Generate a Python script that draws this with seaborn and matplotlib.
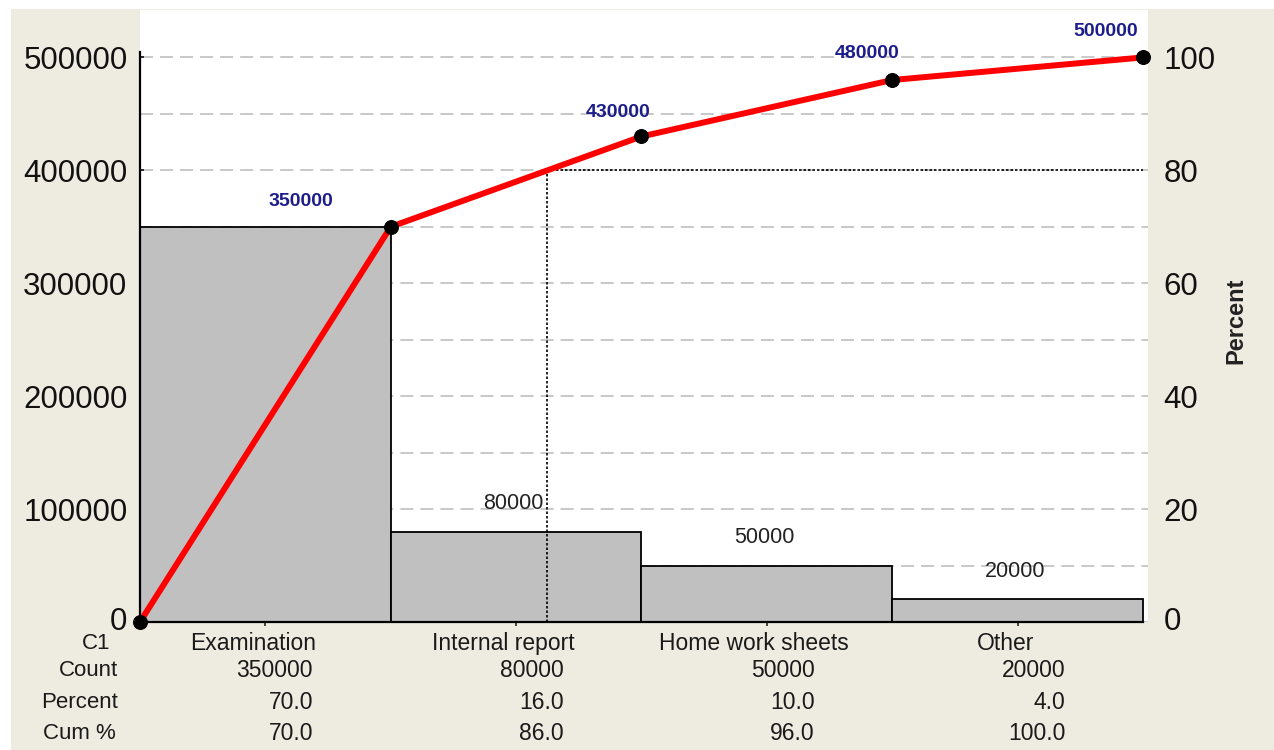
import numpy as np
import pandas as pd
import matplotlib
matplotlib.use("Agg")
import matplotlib.pyplot as plt
import matplotlib.transforms as mtrans
import seaborn as sns
from matplotlib.ticker import MultipleLocator, FixedLocator
from matplotlib.patches import Rectangle

# ---------------- data ----------------
categories = ["Examination", "Internal report", "Home work sheets", "Other"]
counts = [350000, 80000, 50000, 20000]
percents = [70.0, 16.0, 10.0, 4.0]
cum_percents = [70.0, 86.0, 96.0, 100.0]
cum_counts = [350000, 430000, 480000, 500000]
left_ticks = [0, 100000, 200000, 300000, 400000, 500000]
right_ticks = [0, 20, 40, 60, 80, 100]
row_labels = ["C1", "Count", "Percent", "Cum %"]
pareto_cut = 80

# ---------------- style ----------------
sns.set_style("white")
plt.rcParams["font.family"] = ["Liberation Sans", "DejaVu Sans"]

W, H = 1274, 750
fig = plt.figure(figsize=(W / 100, H / 100), dpi=100)
fig.patch.set_facecolor("white")
fig.patches.append(Rectangle((11 / W, 0), 1 - 11 / W, 1 - 9 / H, transform=fig.transFigure,
                             facecolor="#eeebe1", edgecolor="none", zorder=-10))

ax = fig.add_axes([140 / W, 128 / H, 1008 / W, 612 / H])
ax.set_facecolor("white")

total = sum(counts)
ymax = 542000

df = pd.DataFrame({"C1": categories, "Count": counts})
sns.barplot(data=df, x="C1", y="Count", order=categories, width=1, color="#c0c0c0",
            saturation=1, edgecolor="black", linewidth=1.3, ax=ax, zorder=2)

edges = np.arange(len(categories) + 1) - 0.5
cum_line = [0] + cum_counts
sns.lineplot(x=edges, y=cum_line, color="#ff0000", linewidth=4.3, ax=ax, zorder=5,
             marker="o", markersize=10, markerfacecolor="black", markeredgecolor="black",
             clip_on=False)

ax.set_xlim(-0.5, 3.52)
ax.set_ylim(0, ymax)

# grid
ax.yaxis.set_major_locator(FixedLocator(left_ticks))
ax.yaxis.set_minor_locator(MultipleLocator(50000))
ax.grid(False)
ax.grid(True, which="both", axis="y", color="#c8c8c8", linewidth=1.4, linestyle=(0, (6.7, 3.6)))
ax.set_axisbelow(True)

# spines
for s in ["top", "right"]:
    ax.spines[s].set_visible(False)
ax.spines["left"].set_color("black")
ax.spines["left"].set_linewidth(1.6)
ax.spines["left"].set_bounds(0, 505000)
ax.spines["bottom"].set_color("black")
ax.spines["bottom"].set_linewidth(1.6)
ax.spines["bottom"].set_bounds(-0.5, 3.5)

ax.tick_params(axis="y", which="major", direction="in", length=3, width=1.2, pad=9,
               labelsize=22.5, colors="#111111", left=True)
ax.tick_params(axis="y", which="minor", length=0)
ax.set_yticklabels([str(t) for t in left_ticks])
ax.set_xticks(range(len(categories)))
ax.set_xticklabels([])
ax.tick_params(axis="x", direction="out", length=3, width=1.2, bottom=True)
ax.set_xlabel("")
ax.set_ylabel("")

# right axis
ax2 = ax.twinx()
ax2.set_ylim(0, ymax / total * 100)
ax2.set_yticks(right_ticks)
ax2.set_yticklabels([str(t) for t in right_ticks])
ax2.tick_params(axis="y", length=0, pad=11, labelsize=22.5, colors="#111111")
for s in ax2.spines.values():
    s.set_visible(False)
ax2.grid(False)
ax2.text(1.087, 0.493, "Percent", transform=ax.transAxes, rotation=90, ha="center",
         va="center", fontsize=17, fontweight="bold", color="#222222")

# lift the two "0" tick labels slightly, as in the reference
lift = mtrans.ScaledTranslation(0, 4 / 100, fig.dpi_scale_trans)
for a in (ax, ax2):
    t0 = a.yaxis.get_major_ticks()[0]
    for lab in (t0.label1, t0.label2):
        lab.set_transform(lab.get_transform() + lift)

# 80% pareto lines
i = next(k for k, c in enumerate(cum_percents) if c >= pareto_cut)
p0 = 0 if i == 0 else cum_percents[i - 1]
xcut = edges[i] + (pareto_cut - p0) / (cum_percents[i] - p0)
ycut = pareto_cut / 100 * total
ax.plot([xcut, edges[-1]], [ycut, ycut], color="black", linewidth=1.2,
        linestyle=(0, (1.5, 1.2)), zorder=3)
ax.plot([xcut, xcut], [0, ycut], color="black", linewidth=1.2,
        linestyle=(0, (1.5, 1.2)), zorder=3)

# cumulative labels (blue)
offsets = [(-65, 18), (-17, 17), (-18, 19), (-27, 19)]
for k, (xv, yv) in enumerate(zip(edges[1:], cum_counts)):
    ax.annotate(str(yv), (xv, yv), xytext=offsets[k], textcoords="offset points",
                ha="center", va="center", fontsize=14, fontweight="bold", color="#1c1c8a",
                zorder=6)

# bar labels
for k, v in enumerate(counts[1:], start=1):
    ax.annotate(str(v), (k, v), xytext=(-2, 20), textcoords="offset points",
                ha="center", va="center", fontsize=15.5, color="#222222", zorder=6)

# table under the axis
xt = ax.get_xaxis_transform()
row_y = [-0.035, -0.08, -0.131, -0.182]
row_x = [-0.029, -0.022, -0.022, -0.024]
for r, lab in enumerate(row_labels):
    ax.text(row_x[r], row_y[r], lab, transform=ax.transAxes, ha="right", va="center",
            fontsize=16, color="#1a1a1a")
for k in range(len(categories)):
    ax.text(k - 0.05, row_y[0], categories[k], transform=xt, ha="center", va="center",
            fontsize=16.5, color="#1a1a1a")
    ax.text(k + 0.19, row_y[1], str(counts[k]), transform=xt, ha="right", va="center",
            fontsize=16.5, color="#1a1a1a")
    ax.text(k + 0.19, row_y[2], f"{percents[k]:.1f}", transform=xt, ha="right", va="center",
            fontsize=16.5, color="#1a1a1a")
    ax.text(k + 0.19, row_y[3], f"{cum_percents[k]:.1f}", transform=xt, ha="right", va="center",
            fontsize=16.5, color="#1a1a1a")

fig.savefig("out.png", dpi=100)
